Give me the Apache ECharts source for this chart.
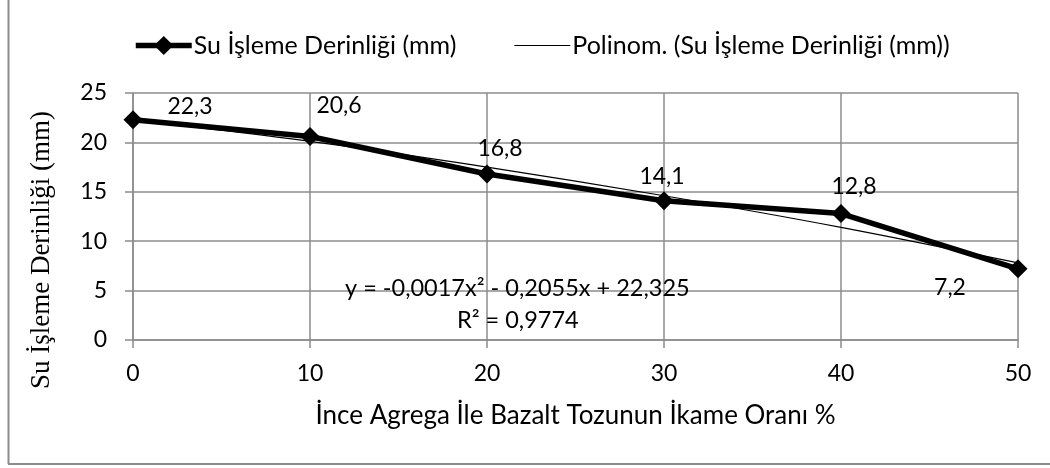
<!DOCTYPE html>
<html>
<head>
<meta charset="utf-8">
<script src="https://cdn.jsdelivr.net/npm/echarts@6/dist/echarts.min.js"></script>
<style>
  html, body { margin: 0; padding: 0; background: #fff; }
  #chart { width: 1050px; height: 468px; }
</style>
</head>
<body>
<div id="chart"></div>
<script>
// veriler
const xValues = [0, 10, 20, 30, 40, 50];
const depth = [22.3, 20.6, 16.8, 14.1, 12.8, 7.2];
// polinom trend çizgisinin grafikten okunan değerleri
const trend = [22.3, 20.1, 17.5, 14.6, 11.4, 7.8];
const yTicks = [0, 5, 10, 15, 20, 25];

const seriesName = 'Su İşleme Derinliği (mm)';
const trendName = 'Polinom. (Su İşleme Derinliği (mm))';
const yTitle = 'Su İşleme Derinliği (mm)';
const xTitle = 'İnce Agrega İle Bazalt Tozunun İkame Oranı %';
const equation = 'y = -0,0017x² - 0,2055x + 22,325';
const rSquared = 'R² = 0,9774';

// etiket kaydırmaları (Excel'de elle yerleştirilmiş)
const labelOffsets = [[57, -13], [29, -31], [13, -25], [-2, -24], [13, -27], [-68, 19]];

const font = 'Lato, "Open Sans", sans-serif';
const gridColor = '#8c8c8c';

const chart = echarts.init(document.getElementById('chart'));
const option = {
  animation: false,
  backgroundColor: '#fff',
  textStyle: { fontFamily: font },
  legend: {
    top: 28,
    left: 128,
    itemGap: 58,
    itemWidth: 56,
    itemHeight: 24,
    lineStyle: { width: 'inherit' },
    textStyle: { fontFamily: font, fontSize: 25, color: '#000', padding: [0, 0, 0, -3] },
    data: [
      { name: seriesName },
      { name: trendName, icon: 'path://M0,0L1,0L1,0.02L0,0.02Z' }
    ]
  },
  grid: { left: 133, right: 32, top: 93, bottom: 128 },
  xAxis: {
    type: 'value',
    min: 0,
    max: 50,
    interval: 10,
    name: xTitle,
    nameLocation: 'middle',
    nameGap: 63,
    nameTextStyle: { fontFamily: font, fontSize: 26, color: '#000' },
    axisLine: { lineStyle: { color: gridColor, width: 1.5 } },
    axisTick: { show: true, length: 8, lineStyle: { color: gridColor, width: 1.5 } },
    axisLabel: { fontFamily: font, fontSize: 23, color: '#000', margin: 22 },
    splitLine: { show: true, lineStyle: { color: gridColor, width: 1.5 } }
  },
  yAxis: {
    type: 'value',
    min: yTicks[0],
    max: yTicks[yTicks.length - 1],
    interval: 5,
    axisLine: { show: true, lineStyle: { color: gridColor, width: 1.5 } },
    axisTick: { show: true, length: 8, lineStyle: { color: gridColor, width: 1.5 } },
    axisLabel: { fontFamily: font, fontSize: 23, color: '#000', margin: 26 },
    splitLine: { show: true, lineStyle: { color: gridColor, width: 1.5 } }
  },
  series: [
    {
      name: seriesName,
      type: 'line',
      data: xValues.map((x, i) => ({
        value: [x, depth[i]],
        label: { offset: labelOffsets[i] }
      })),
      symbol: 'diamond',
      symbolSize: 19,
      itemStyle: { color: '#000' },
      lineStyle: { color: '#000', width: 5.5 },
      label: {
        show: true,
        position: 'inside',
        fontFamily: font,
        fontSize: 23,
        color: '#000',
        formatter: p => String(p.value[1]).replace('.', ',')
      },
      z: 3
    },
    {
      name: trendName,
      type: 'line',
      data: xValues.map((x, i) => [x, trend[i]]),
      smooth: 0.3,
      symbol: 'none',
      lineStyle: { color: '#000', width: 1.2 },
      itemStyle: { color: '#000' },
      z: 4
    }
  ],
  graphic: [
    { type: 'line', shape: { x1: 8.5, y1: 0, x2: 8.5, y2: 464 }, style: { stroke: '#8c8c8c', lineWidth: 2 } },
    { type: 'line', shape: { x1: 8, y1: 464, x2: 1050, y2: 464 }, style: { stroke: '#8c8c8c', lineWidth: 2 } },
    {
      type: 'text', x: 42, y: 250, rotation: Math.PI / 2, z: 10,
      style: {
        text: yTitle, font: '27px "Liberation Serif", serif', fill: '#000',
        align: 'center', verticalAlign: 'middle'
      }
    },
    {
      type: 'text', x: 345, y: 288, z: 10,
      style: { text: equation, font: '23.5px ' + font, fill: '#000', verticalAlign: 'middle' }
    },
    {
      type: 'text', x: 457, y: 320, z: 10,
      style: { text: rSquared, font: '23.5px ' + font, fill: '#000', verticalAlign: 'middle' }
    }
  ]
};
chart.setOption(option);
</script>
</body>
</html>
